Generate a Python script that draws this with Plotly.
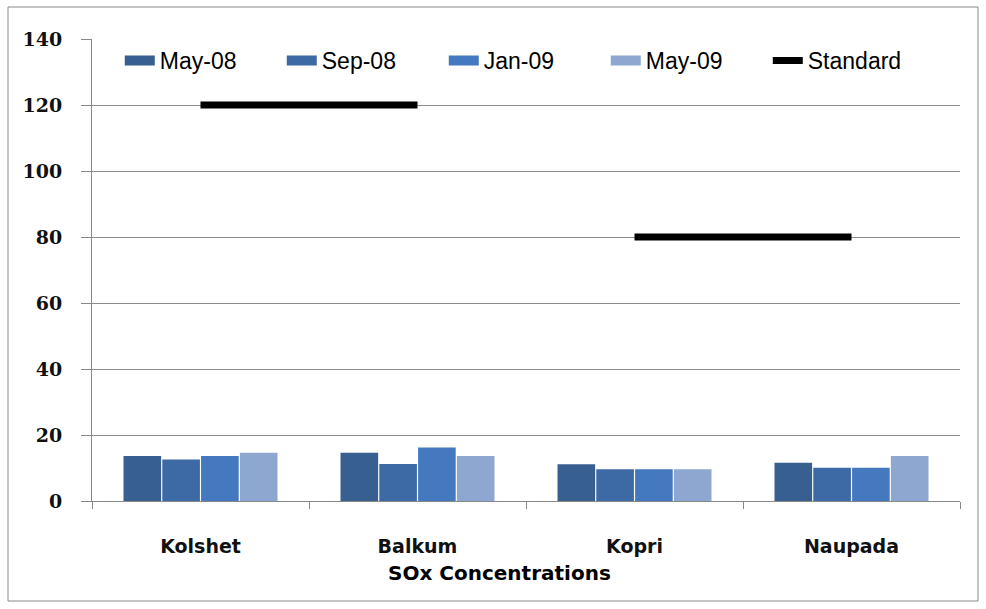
import plotly.graph_objects as go

categories = ["Kolshet", "Balkum", "Kopri", "Naupada"]
series_names = ["May-08", "Sep-08", "Jan-09", "May-09"]
may08 = [13.6, 14.6, 11.1, 11.6]
sep08 = [12.6, 11.2, 9.6, 10.1]
jan09 = [13.6, 16.2, 9.6, 10.1]
may09 = [14.6, 13.6, 9.6, 13.6]
standard_a = [120, 120, None, None]
standard_b = [None, None, 80, 80]
y_ticks = [0, 20, 40, 60, 80, 100, 120, 140]

colors = ["#375f8f", "#3d69a5", "#4579bf", "#8ea7d0"]

fig = go.Figure()
for name, vals, c in zip(series_names, [may08, sep08, jan09, may09], colors):
    fig.add_trace(go.Bar(x=categories, y=vals, name=name, showlegend=False,
                         legendgroup=name, marker=dict(color=c, line=dict(width=0))))
    # legend proxy (wide swatch like the original)
    fig.add_trace(go.Scatter(x=[None], y=[None], name=name, mode="lines", legendgroup=name,
                             line=dict(color=c, width=15)))

fig.add_trace(go.Scatter(x=categories, y=standard_a, name="Standard", mode="lines",
                         line=dict(color="black", width=7), connectgaps=False))
fig.add_trace(go.Scatter(x=categories, y=standard_b, name="Standard", mode="lines", showlegend=False,
                         line=dict(color="black", width=7), connectgaps=False))

L, R, T, B = 92, 26, 39, 108
W, H = 986, 609
pw = W - L - R
ph = H - T - B

fig.update_layout(
    width=W, height=H,
    margin=dict(l=L, r=R, t=T, b=B),
    paper_bgcolor="white", plot_bgcolor="white",
    barmode="group", bargap=0.285, bargroupgap=0.03,
    showlegend=True,
    legend=dict(orientation="h", x=0.032, y=1.0, xanchor="left", yanchor="top",
                font=dict(family="Liberation Sans Narrow, Arial Narrow, Liberation Sans, sans-serif", size=23, color="black"),
                bgcolor="rgba(255,255,255,0)", itemwidth=30, tracegroupgap=0,
                entrywidth=117, entrywidthmode="pixels"),
    xaxis=dict(showgrid=False, showline=True, linecolor="#888888", linewidth=1,
               ticks="outside", tickson="boundaries", ticklen=7, tickcolor="#888888",
               tickfont=dict(family="DejaVu Sans", size=19, color="#111111", weight="bold"),
               ticklabelstandoff=28),
    yaxis=dict(range=[0, 140], tickvals=y_ticks, showgrid=True, gridcolor="#8c8c8c", gridwidth=1,
               showline=True, linecolor="#888888", linewidth=1,
               ticks="outside", ticklen=10, tickcolor="#888888",
               tickfont=dict(family="DejaVu Serif", size=19, color="#111111", weight="bold"),
               ticklabelstandoff=15, zeroline=False),
    annotations=[dict(text="<b>SOx Concentrations</b>", xref="paper", yref="paper",
                      x=(499 - L) / pw, y=-(573 - (T + ph)) / ph, xanchor="center", yanchor="middle",
                      showarrow=False, font=dict(family="DejaVu Sans", size=20, color="black"))],
    shapes=[dict(type="rect", xref="paper", yref="paper",
                 x0=(8 - L) / pw, x1=(978 - L) / pw, y0=-(601 - (T + ph)) / ph, y1=(T + ph - 7) / ph,
                 line=dict(color="#8a8a8a", width=1), layer="below")],
)

fig.write_html("out.html", config={"displayModeBar": False},
               post_script="document.body.style.margin='0';document.body.style.padding='0';")
